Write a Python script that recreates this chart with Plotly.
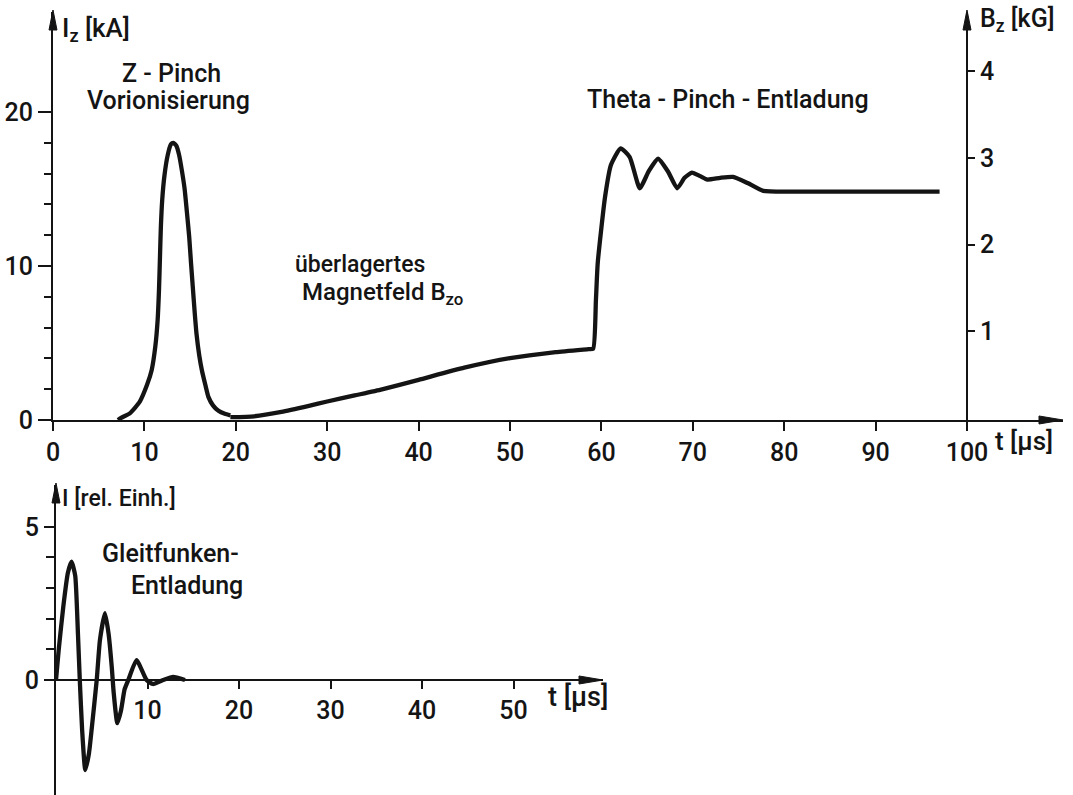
import plotly.graph_objects as go

# ---- data -------------------------------------------------------------
# Z-pinch pre-ionisation current I_z [kA]
zpinch_t = [7.1, 7.5, 8.4, 9.5, 10.3, 10.8, 11.2, 11.45, 11.6, 11.7, 11.8, 11.95,
            12.2, 12.55, 12.9, 13.16, 13.5, 13.8, 14.1, 14.4, 14.65, 14.9, 15.1,
            15.3, 15.5, 15.7, 16.0, 16.3, 16.7, 17.0, 17.5, 18.1, 18.8, 19.4]
zpinch_i = [0.0, 0.15, 0.43, 1.2, 2.3, 3.25, 4.8, 6.5, 8.5, 10.5, 12.5, 14.3,
            15.9, 17.2, 17.9, 18.0, 17.8, 17.2, 16.2, 15.0, 13.5, 11.9, 10.2,
            8.6, 7.0, 5.6, 4.2, 3.2, 2.2, 1.5, 0.95, 0.6, 0.4, 0.3]

# axial magnetic field B_z [kG]: superimposed field B_zo, then theta-pinch discharge
bz_t = [19.4, 22.0, 25.0, 28.0, 30.0, 33.0, 36.0, 40.0, 45.0, 50.0, 55.0, 58.6,
        59.1, 59.4, 59.6, 60.4, 61.05, 62.1, 63.1, 64.2, 65.2, 66.2, 67.3, 68.3,
        69.1, 69.9, 70.8, 71.6, 73.0, 74.4, 76.0, 77.7, 80.6, 97.0]
bz_b = [0.01, 0.02, 0.07, 0.14, 0.19, 0.26, 0.33, 0.44, 0.58, 0.69, 0.76, 0.795,
        0.80, 1.36, 1.79, 2.55, 2.92, 3.11, 3.01, 2.65, 2.85, 2.99, 2.84, 2.65,
        2.77, 2.83, 2.79, 2.75, 2.77, 2.78, 2.71, 2.62, 2.61, 2.61]

# sliding-spark discharge current I [rel. units]
spark_t = [0.0, 0.3, 0.8, 1.3, 1.7, 2.1, 2.4, 2.6, 2.85, 3.2, 3.6, 3.9, 4.45,
           4.8, 5.35, 5.75, 6.1, 6.3, 6.7, 7.1, 7.5, 7.9, 8.8, 9.9, 10.6, 11.7,
           12.8, 14.1]
spark_i = [0.0, 1.0, 2.4, 3.5, 3.86, 3.4, 1.5, 0.0, -1.6, -2.94, -2.4, -1.6, 0.0,
           1.3, 2.18, 1.5, 0.4, -0.4, -1.41, -1.0, -0.3, 0.0, 0.65, 0.0, -0.13, 0.0,
           0.1, 0.0]

top_ticks = [0, 10, 20, 30, 40, 50, 60, 70, 80, 90, 100]
iz_ticks = [0, 10, 20]
iz_minor = [2, 4, 6, 8, 12, 14, 16, 18]
bz_ticks = [1, 2, 3, 4]
bottom_ticks = [10, 20, 30, 40, 50]
rel_ticks = [0, 5]
rel_minor = [1, 2, 3, 4]

# ---- geometry helpers (pixel -> paper) --------------------------------
W, H = 1073, 795
INK = "#141414"
FONT = "Roboto"
WEIGHT = 500


def px(x):
    return x / W


def py(y):
    return 1 - y / H


# top panel: t=0 at x=53, 9.14 px/us; I=0 at y=420, 15.4 px/kA
X0, XS, XTIP = 53, 9.14, 1063
Y0, YS, YTOP = 420, 15.4, 12
# right axis: B=0 at y=418, 86.7 px/kG
B0, BS = 418, 86.7
# bottom panel: t=0 at x=56, 9.15 px/us; I=0 at y=680, 30.65 px/unit
X0b, XSb, XTIPb = 56, 9.15, 603
Y0b, YSb, YTOPb = 680, 30.65, 485

fig = go.Figure()

line = dict(color=INK, width=4.3, shape="spline", smoothing=0.5)
fig.add_trace(go.Scatter(x=zpinch_t, y=zpinch_i, mode="lines", line=line,
                         xaxis="x", yaxis="y", hoverinfo="skip"))
fig.add_trace(go.Scatter(x=bz_t, y=bz_b, mode="lines", line=line,
                         xaxis="x", yaxis="y2", hoverinfo="skip"))
fig.add_trace(go.Scatter(x=spark_t, y=spark_i, mode="lines", line=line,
                         xaxis="x2", yaxis="y3", hoverinfo="skip"))

axis_common = dict(showline=True, linecolor=INK, linewidth=2, ticks="outside",
                   tickcolor=INK, tickwidth=2, showgrid=False, zeroline=False,
                   automargin=False,
                   tickfont=dict(family=FONT, size=25, color=INK, weight=WEIGHT),
                   fixedrange=True)

fig.update_layout(
    width=W, height=H,
    margin=dict(l=0, r=0, t=0, b=0, pad=0, autoexpand=False),
    paper_bgcolor="#ffffff", plot_bgcolor="rgba(0,0,0,0)",
    showlegend=False,
    xaxis=dict(axis_common, domain=[px(X0), px(XTIP)],
               range=[0, (XTIP - X0) / XS], anchor="y",
               tickmode="array", tickvals=top_ticks, ticklen=9),
    yaxis=dict(axis_common, domain=[py(Y0), py(YTOP)],
               range=[0, (Y0 - YTOP) / YS], anchor="x",
               tickmode="array", tickvals=iz_ticks, ticklen=13,
               minor=dict(tickvals=iz_minor, ticklen=7, tickwidth=2,
                          tickcolor=INK, ticks="outside")),
    yaxis2=dict(axis_common, overlaying="y", side="right", anchor="free",
                position=px(967),
                range=[(B0 - Y0) / BS, (B0 - YTOP) / BS],
                tickmode="array", tickvals=bz_ticks, ticklen=7),
    xaxis2=dict(axis_common, domain=[px(X0b), px(XTIPb)],
                range=[0, (XTIPb - X0b) / XSb], anchor="free",
                position=py(Y0b),
                tickmode="array", tickvals=bottom_ticks, ticklen=8),
    yaxis3=dict(axis_common, domain=[0, py(YTOPb)],
                range=[(Y0b - H) / YSb, (Y0b - YTOPb) / YSb], anchor="x2",
                tickmode="array", tickvals=rel_ticks, ticklen=10,
                minor=dict(tickvals=rel_minor, ticklen=8, tickwidth=2,
                           tickcolor=INK, ticks="outside")),
)


# arrow heads at the axis ends
def arrow(tip_x, tip_y, direction, length=20, half=4):
    if direction == "up":
        pts = [(tip_x, tip_y), (tip_x - half, tip_y + length), (tip_x + half, tip_y + length)]
    else:
        pts = [(tip_x, tip_y), (tip_x - length, tip_y - half), (tip_x - length, tip_y + half)]
    path = "M " + " L ".join(f"{px(a):.5f},{py(b):.5f}" for a, b in pts) + " Z"
    return dict(type="path", path=path, xref="paper", yref="paper",
                fillcolor=INK, line=dict(color=INK, width=1))


fig.update_layout(shapes=[
    arrow(X0, YTOP - 2, "up"),
    arrow(967, YTOP - 2, "up"),
    arrow(XTIP, Y0, "right", length=24),
    arrow(X0b, YTOPb - 2, "up"),
    arrow(XTIPb, Y0b, "right", length=24),
])


def label(text, x, y, size=25, xanchor="center", yanchor="middle"):
    fig.add_annotation(text=text, x=px(x), y=py(y), xref="paper", yref="paper",
                       showarrow=False, xanchor=xanchor, yanchor=yanchor,
                       font=dict(family=FONT, size=size, color=INK, weight=WEIGHT))


# axis titles
label("I<sub>z</sub> [kA]", 60, 30, size=26, xanchor="left")
label("B<sub>z</sub> [kG]", 978, 20, size=25, xanchor="left")
label("t [µs]", 993, 441, size=26, xanchor="left")
label("I [rel. Einh.]", 60, 498, size=23, xanchor="left")
label("t [µs]", 546, 697, size=27, xanchor="left")

# curve annotations
label("Z - Pinch", 171, 74)
label("Vorionisierung", 168, 101)
label("Theta - Pinch - Entladung", 728, 100)
label("überlagertes", 360, 265, size=23)
label("Magnetfeld B<sub>zo</sub>", 382, 294, size=24)
label("Gleitfunken-", 170, 553)
label("Entladung", 187, 585)

fig.write_html("out.html")
